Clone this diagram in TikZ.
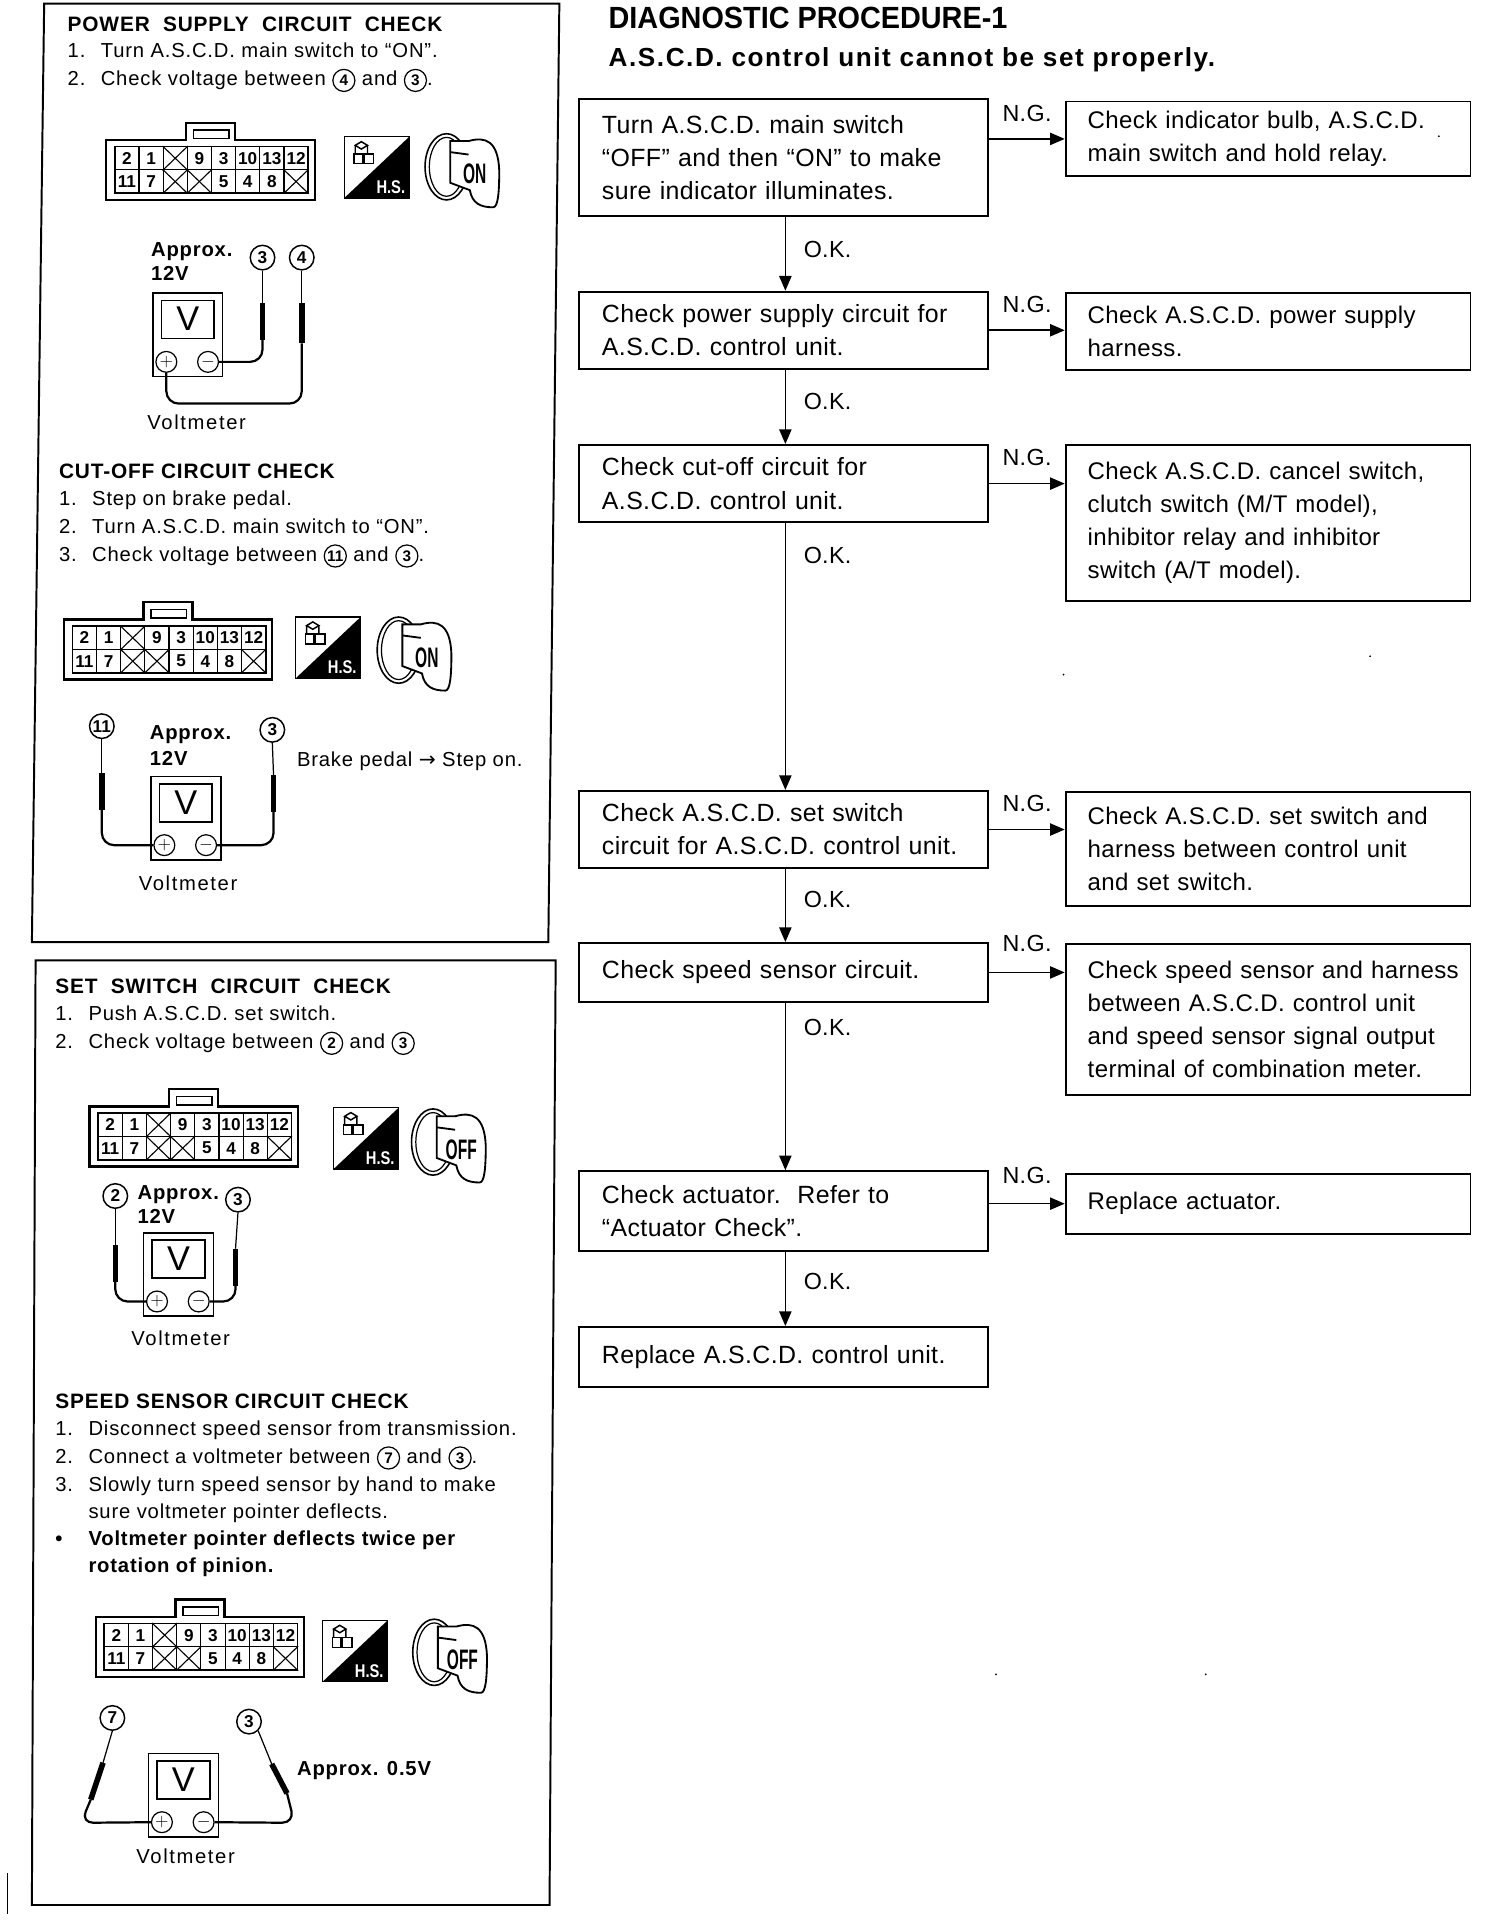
\documentclass[tikz,border=0pt]{standalone}
\usepackage{fontspec}
\setmainfont[LetterSpace=1.5]{Liberation Sans}
\newfontfamily\plainfont{Liberation Sans}
\newfontfamily\panelfont[LetterSpace=4]{Liberation Sans}
\newfontfamily\widefont[LetterSpace=8]{Liberation Sans}
\newfontfamily\subfont[LetterSpace=6]{Liberation Sans}
\newfontfamily\cirfont{DejaVu Sans}
\usetikzlibrary{arrows.meta}
\newcommand{\cn}[1]{\tikz[baseline=(cc.base)]\node[circle,draw,line width=1pt,inner sep=0pt,minimum size=18pt,font=\plainfont\fontsize{12.5}{12.5}\selectfont\bfseries] (cc) {#1};}
\newcommand{\stepno}[1]{\makebox[27pt][l]{#1}}
\tikzset{
  flowbox/.style={draw,line width=1.5pt,anchor=north west,align=left,inner xsep=19pt,inner ysep=0pt,font=\fontsize{20.3}{27}\selectfont},
  leftbox/.style={flowbox,text width=296pt},
  rightbox/.style={flowbox,inner xsep=18pt,text width=294pt,font=\fontsize{19.6}{27}\selectfont},
  flow/.style={line width=1.3pt,-{Triangle[length=12pt,width=10pt]}},
  nglabel/.style={font=\fontsize{19}{19}\selectfont,yshift=21pt},
  oklabel/.style={font=\fontsize{19}{19}\selectfont,right,xshift=11pt},
  frame/.style={line width=1.6pt},
  paneltitle/.style={anchor=west,inner sep=0pt,font=\panelfont\fontsize{17}{17}\selectfont\bfseries},
  paneltext/.style={anchor=north west,align=left,inner sep=0pt,font=\panelfont\fontsize{16.5}{22.7}\selectfont},
  boldtext/.style={anchor=west,inner sep=0pt,font=\panelfont\fontsize{16.5}{19}\selectfont\bfseries},
  metertext/.style={anchor=west,inner sep=0pt,font=\panelfont\fontsize{16.5}{16.5}\selectfont},
  metername/.style={anchor=west,inner sep=0pt,font=\widefont\fontsize{16.5}{16.5}\selectfont},
  probenum/.style={circle,draw,line width=1.2pt,inner sep=0pt,minimum size=20pt,font=\plainfont\fontsize{14}{14}\selectfont\bfseries},
  tipline/.style={line width=1pt},
  handle/.style={line width=4.5pt},
  lead/.style={line width=1.8pt,rounded corners=10pt},
  term/.style={circle,draw,line width=1pt,fill=white,inner sep=0pt,minimum size=17pt,font=\plainfont\fontsize{14}{14}\selectfont},
  cellbox/.style={draw,line width=.9pt,inner sep=0pt,minimum width=19.7pt,minimum height=19pt,font=\plainfont\fontsize{14}{14}\selectfont\bfseries},
  pics/connpic/.style={code={
    \draw[line width=1.8pt,fill=white] (0,14) -- (65,14) -- (65,0) -- (105,0) -- (105,14) -- (170,14) -- (170,63) -- (0,63) -- cycle;
    \draw[line width=1.3pt] (71,6) rectangle (100,13);
    \foreach \lbl [count=\i from 0] in {2,1,{},9,3,10,13,12}
      \node[cellbox] (ua\i) at ({16.85+\i*19.7},29) {\lbl};
    \foreach \lbl [count=\i from 0] in {11,7,{},{},5,4,8,{}}
      \node[cellbox] (ub\i) at ({16.85+\i*19.7},48) {\lbl};
    \foreach \cellname in {ua2,ub2,ub3,ub7} {
      \draw[line width=.9pt] (\cellname.north west) -- (\cellname.south east);
      \draw[line width=.9pt] (\cellname.north east) -- (\cellname.south west);
    }
    \draw[line width=1.4pt] (7,19.5) rectangle (164.6,57.5);
  }},
  pics/hspic/.style={code={
    \draw[line width=1pt] (0,0) rectangle (53,50);
    \fill (53,0) -- (53,50) -- (0,50) -- cycle;
    \draw[line width=1.2pt] (9,7) -- (14,4) -- (19,7) -- (14,10) -- cycle (9,7) -- (9,14) (19,7) -- (19,14);
    \draw[line width=1.2pt] (8,14) rectangle (15,22) (16,14) rectangle (24,22);
    \node[text=white,inner sep=0pt,font=\plainfont\fontsize{15}{15}\selectfont\bfseries,xscale=.8] at (38,41) {H.S.};
  }},
  pics/keypic/.style={code={
    \draw[line width=1.3pt,fill=white] (18,27) ellipse [x radius=17.5,y radius=27];
    \draw[line width=1pt] (18,27) ellipse [x radius=14,y radius=24];
    \draw[line width=1.5pt,fill=white] (21,6) -- (36,6) .. controls (50,2) and (60,6) .. (61,30) .. controls (61,48) and (60,60) .. (56,60) .. controls (46,60) and (39,57) .. (37,46) -- (21,40) -- cycle;
    \draw[line width=1.5pt] (21,15) -- (36,17);
    \node[inner sep=0pt,font=\plainfont\fontsize{23}{23}\selectfont\bfseries,xscale=.55] at (41,33) {#1};
  }},
  pics/meterpic/.style={code={
    \draw[line width=1.2pt] (0,0) rectangle (57,68);
    \draw[line width=1.4pt] (7,6) rectangle (50,37);
    \node[inner sep=0pt,font=\plainfont\fontsize{28}{28}\selectfont] (face) at (28.5,21) {V};
    \node[term] (plus) at (11,56) {$+$};
    \node[term] (minus) at (45,56) {$-$};
  }}
}
\begin{document}
\begin{tikzpicture}[x=1pt,y=-1pt]
  \useasboundingbox[fill=white] (0,0) rectangle (1226,1568.5);

  % left panels
  \draw[frame] (36,3) -- (456,3) -- (447,768) -- (26,768) -- cycle;
  \draw[frame] (29,783) -- (453,783) -- (448,1553) -- (26,1553) -- cycle;
  \draw[line width=1pt] (6,1527) -- (6,1560);
  \foreach \sx/\sy in {867/550,812/1365,983/1365,1117/535,1173/111}
    \fill (\sx,\sy) circle (.8);

  % power supply
  \node[paneltitle] (t1) at (55,20) {POWER\ \ SUPPLY\ \ CIRCUIT\ \ CHECK};
  \node[paneltext] (s1) at (55,35) {\stepno{1.}Turn A.S.C.D. main switch to “ON”.\\\stepno{2.}Check voltage between \cn{4} and \cn{3}.};
  \pic at (86.6,100) {connpic};
  \pic at (280.6,111.5) {hspic};
  \pic at (346,109) {keypic=ON};
  \node[boldtext] (a1) at (123,205) {Approx.};
  \node[boldtext] (v1) at (123,223) {12V};
  \pic (m1) at (124.6,239) {meterpic};
  \node[probenum] (p3a) at (214,210) {3};
  \node[probenum] (p4a) at (246,210) {4};
  \coordinate (h3a) at (214,247);
  \coordinate (k3a) at (214,277);
  \coordinate (h4a) at (246,247);
  \coordinate (k4a) at (246,280);
  \draw[tipline] (p3a.south) -- (h3a);
  \draw[tipline] (p4a.south) -- (h4a);
  \draw[handle] (h3a) -- (k3a);
  \draw[handle] (h4a) -- (k4a);
  \draw[lead] (m1minus.east) -| (k3a);
  \draw[lead] (m1plus.south) -- ++(0,25) -| (k4a);
  \node[metername] (n1) at (120,344) {Voltmeter};

  % cut-off
  \node[paneltitle] (t2) at (48,384) {CUT-OFF CIRCUIT CHECK};
  \node[paneltext] (s2) at (48,400) {\stepno{1.}Step on brake pedal.\\\stepno{2.}Turn A.S.C.D. main switch to “ON”.\\\stepno{3.}Check voltage between \cn{11} and \cn{3}.};
  \pic at (52,491) {connpic};
  \pic at (241,503) {hspic};
  \pic at (307,503) {keypic=ON};
  \node[boldtext] (a2) at (122,599) {Approx.};
  \node[boldtext] (v2) at (122,618) {12V};
  \pic (m2) at (123,633) {meterpic};
  \node[probenum] (p11b) at (83,592) {11};
  \node[probenum] (p3b) at (222,595) {3};
  \coordinate (h11b) at (83,630);
  \coordinate (k11b) at (83,660);
  \coordinate (h3b) at (223,632);
  \coordinate (k3b) at (223,662);
  \draw[tipline] (p11b.south) -- (h11b);
  \draw[tipline] (p3b.south) -- (h3b);
  \draw[handle] (h11b) -- (k11b);
  \draw[handle] (h3b) -- (k3b);
  \draw[lead] (m2plus.west) -| (k11b);
  \draw[lead] (m2minus.east) -| (k3b);
  \node[metertext] (b2) at (242,621) {Brake pedal {\cirfont →} Step on.};
  \node[metername] (n2) at (113,720) {Voltmeter};

  % set switch
  \node[paneltitle] (t3) at (45,804) {SET\ \ SWITCH\ \ CIRCUIT\ \ CHECK};
  \node[paneltext] (s3) at (45,820) {\stepno{1.}Push A.S.C.D. set switch.\\\stepno{2.}Check voltage between \cn{2} and \cn{3}};
  \pic at (73,888) {connpic};
  \pic at (272,903) {hspic};
  \pic at (335,904) {keypic=OFF};
  \node[boldtext] (a3) at (112,974) {Approx.};
  \node[boldtext] (v3) at (112,992) {12V};
  \pic (m3) at (117,1005) {meterpic};
  \node[probenum] (p2c) at (94,975) {2};
  \node[probenum] (p3c) at (194,978) {3};
  \coordinate (h2c) at (94,1015);
  \coordinate (k2c) at (94,1045);
  \coordinate (h3c) at (192,1018);
  \coordinate (k3c) at (192,1048);
  \draw[tipline] (p2c.south) -- (h2c);
  \draw[tipline] (p3c.south) -- (h3c);
  \draw[handle] (h2c) -- (k2c);
  \draw[handle] (h3c) -- (k3c);
  \draw[lead] (m3plus.west) -| (k2c);
  \draw[lead] (m3minus.east) -| (k3c);
  \node[metername] (n3) at (107,1091) {Voltmeter};

  % speed sensor
  \node[paneltitle] (t4) at (45,1142) {SPEED SENSOR CIRCUIT CHECK};
  \node[paneltext] (s4) at (45,1158) {\stepno{1.}Disconnect speed sensor from transmission.\\\stepno{2.}Connect a voltmeter between \cn{7} and \cn{3}.\\\stepno{3.}Slowly turn speed sensor by hand to make\\\stepno{}sure voltmeter pointer deflects.};
  \node[boldtext] (d4) at (45,1256) {\stepno{•}Voltmeter pointer deflects twice per};
  \node[boldtext] (e4) at (72,1278) {rotation of pinion.};
  \pic at (78,1304) {connpic};
  \pic at (263,1321) {hspic};
  \pic at (336,1320) {keypic=OFF};
  \pic (m4) at (121,1429.5) {meterpic};
  \node[probenum] (p7d) at (91.6,1400.5) {7};
  \node[probenum] (p3d) at (203,1403.5) {3};
  \coordinate (h7d) at (84,1437);
  \coordinate (k7d) at (74,1467);
  \coordinate (c7d) at (66,1486);
  \coordinate (h3d) at (221.5,1438);
  \coordinate (k3d) at (234,1462);
  \coordinate (c3d) at (240,1486);
  \draw[tipline] (p7d.south) -- (h7d);
  \draw[tipline] (p3d.south east) -- (h3d);
  \draw[handle] (h7d) -- (k7d);
  \draw[handle] (h3d) -- (k3d);
  \draw[lead] (m4plus.west) -- (c7d) -- (k7d);
  \draw[lead] (m4minus.east) -- (c3d) -- (k3d);
  \node[boldtext] (a4) at (242,1443) {Approx. 0.5V};
  \node[metername] (n4) at (111,1513) {Voltmeter};

  % flow chart
  \node[anchor=west,inner sep=0pt,font=\plainfont\fontsize{25}{25}\selectfont\bfseries,xscale=.94] (head) at (496,15) {DIAGNOSTIC PROCEDURE-1};
  \node[anchor=west,inner sep=0pt,font=\subfont\fontsize{21.3}{21.3}\selectfont\bfseries] (sub) at (496,48.5) {A.S.C.D. control unit cannot be set properly.};

  \node[leftbox,minimum height=95pt] (f1) at (471,80) {Turn A.S.C.D. main switch\\“OFF” and then “ON” to make\\sure indicator illuminates.};
  \node[leftbox,minimum height=63pt] (f2) at (471,237) {Check power supply circuit for\\A.S.C.D. control unit.};
  \node[leftbox,minimum height=63pt] (f3) at (471,362) {Check cut-off circuit for\\A.S.C.D. control unit.};
  \node[leftbox,minimum height=63pt] (f4) at (471,644) {Check A.S.C.D. set switch\\circuit for A.S.C.D. control unit.};
  \node[leftbox,minimum height=48pt] (f5) at (471,768) {Check speed sensor circuit.};
  \node[leftbox,minimum height=65pt] (f6) at (471,954) {Check actuator.\ \ Refer to\\“Actuator Check”.};
  \node[leftbox,minimum height=49pt] (f7) at (471,1081) {Replace A.S.C.D. control unit.};

  \node[rightbox,minimum height=61pt] (g1) at (868,82) {Check indicator bulb, A.S.C.D.\\main switch and hold relay.};
  \node[rightbox,minimum height=63pt] (g2) at (868,238) {Check A.S.C.D. power supply\\harness.};
  \node[rightbox,minimum height=127pt] (g3) at (868,362) {Check A.S.C.D. cancel switch,\\clutch switch (M/T model),\\inhibitor relay and inhibitor\\switch (A/T model).};
  \node[rightbox,minimum height=93pt] (g4) at (868,645) {Check A.S.C.D. set switch and\\harness between control unit\\and set switch.};
  \node[rightbox,minimum height=123pt] (g5) at (868,769) {\mbox{Check speed sensor and harness}\\between A.S.C.D. control unit\\and speed sensor signal output\\terminal of combination meter.};
  \node[rightbox,minimum height=49pt] (g6) at (868,956) {Replace actuator.};

  \draw[flow] ([xshift=1.5pt]f1.south) -- node[oklabel,pos=.45] {O.K.} ([xshift=1.5pt]f2.north);
  \draw[flow] ([xshift=1.5pt]f2.south) -- node[oklabel,pos=.42] {O.K.} ([xshift=1.5pt]f3.north);
  \draw[flow] ([xshift=1.5pt]f3.south) -- node[oklabel,pos=.12] {O.K.} ([xshift=1.5pt]f4.north);
  \draw[flow] ([xshift=1.5pt]f4.south) -- node[oklabel,pos=.42] {O.K.} ([xshift=1.5pt]f5.north);
  \draw[flow] ([xshift=1.5pt]f5.south) -- node[oklabel,pos=.15] {O.K.} ([xshift=1.5pt]f6.north);
  \draw[flow] ([xshift=1.5pt]f6.south) -- node[oklabel,pos=.4] {O.K.} ([xshift=1.5pt]f7.north);

  \draw[flow] (f1.east |- g1.west) -- node[nglabel] {N.G.} (g1.west);
  \draw[flow] (f2.east) -- node[nglabel] {N.G.} (f2.east -| g2.west);
  \draw[flow] (f3.east) -- node[nglabel] {N.G.} (f3.east -| g3.west);
  \draw[flow] (f4.east) -- node[nglabel] {N.G.} (f4.east -| g4.west);
  \draw[flow] (f5.east) -- node[nglabel,yshift=3pt] {N.G.} (f5.east -| g5.west);
  \draw[flow] (f6.east |- g6.west) -- node[nglabel,yshift=2pt] {N.G.} (g6.west);
\end{tikzpicture}
\end{document}
